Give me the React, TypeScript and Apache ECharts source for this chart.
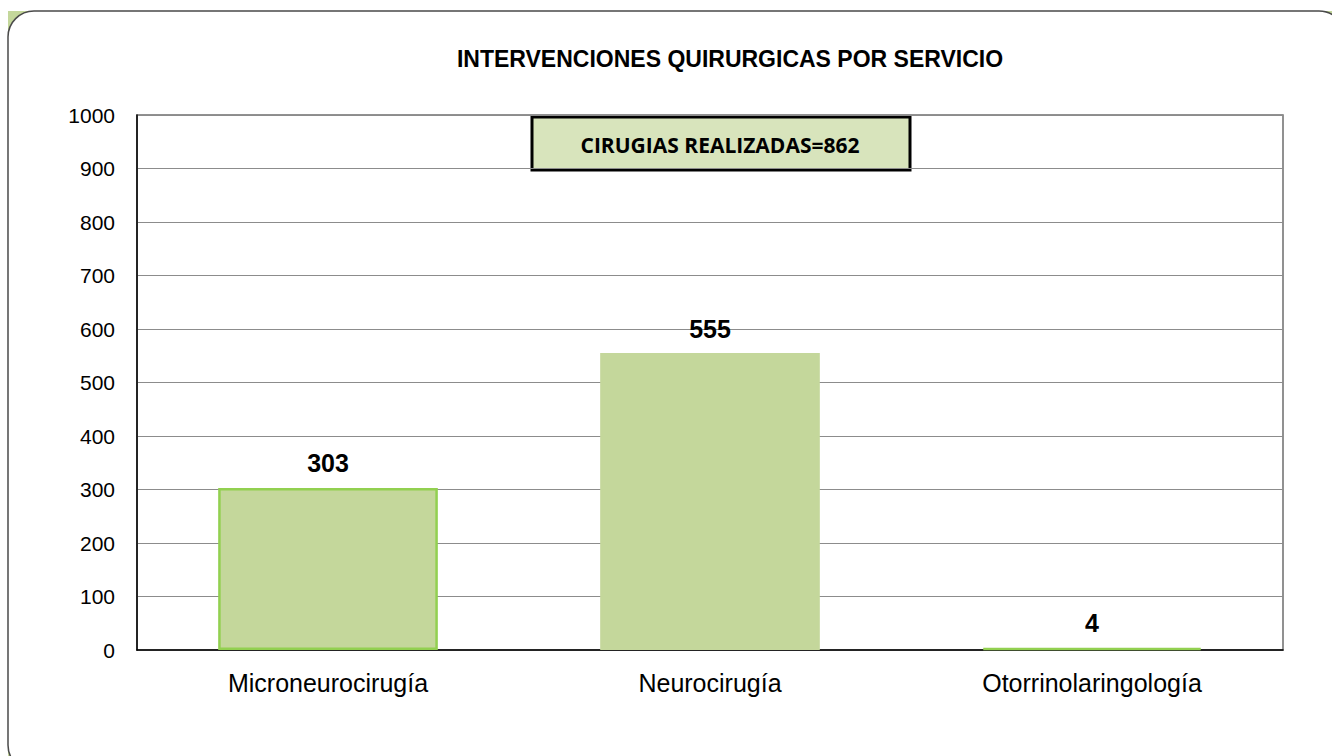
import React, { useEffect, useRef } from "react";
import * as echarts from "echarts";

const categories = ["Microneurocirugía", "Neurocirugía", "Otorrinolaringología"];
const values = [303, 555, 4];
const barBorders = ["#92d050", "#c4d79b", "#92d050"];
const yTicks = [0, 100, 200, 300, 400, 500, 600, 700, 800, 900, 1000];
const titleText = "INTERVENCIONES QUIRURGICAS POR SERVICIO";
const boxText = "CIRUGIAS REALIZADAS=862";

const FONT = "'Liberation Sans', Arial, sans-serif";

export default function App() {
  const ref = useRef<HTMLDivElement>(null);
  useEffect(() => {
    document.body.style.margin = "0";
    const chart = echarts.init(ref.current!, null, { renderer: "svg" });
    chart.setOption({
      animation: false,
      backgroundColor: "#ffffff",
      title: {
        text: titleText,
        left: 725,
        textAlign: "center",
        top: 42,
        textStyle: { fontFamily: FONT, fontSize: 23, fontWeight: "bold", color: "#000" },
      },
      grid: { left: 137, right: 49, top: 115, bottom: 106, show: true, borderColor: "#6e6e6e", borderWidth: 1.5 },
      xAxis: {
        type: "category",
        data: categories,
        axisLine: { show: true, lineStyle: { color: "#000", width: 1.5 } },
        axisTick: { show: false },
        axisLabel: { margin: 20, fontFamily: FONT, fontSize: 25, color: "#000" },
      },
      yAxis: {
        type: "value",
        min: yTicks[0],
        max: yTicks[yTicks.length - 1],
        interval: 100,
        axisLine: { show: true, lineStyle: { color: "#000", width: 1.5 } },
        axisTick: { show: false },
        splitLine: { show: true, lineStyle: { color: "#8c8c8c", width: 1 } },
        axisLabel: {
          margin: 22,
          fontFamily: FONT,
          fontSize: 21,
          color: "#000",
          formatter: (v: number) => String(v),
        },
      },
      series: [
        {
          type: "bar",
          barWidth: "57.5%",
          data: values.map((v, i) => ({
            value: v,
            itemStyle: { color: "#c4d79b", borderColor: barBorders[i], borderWidth: 2.5 },
          })),
          label: {
            show: true,
            position: "top",
            distance: 12,
            fontFamily: FONT,
            fontSize: 25,
            fontWeight: "bold",
            color: "#000",
          },
        },
      ],
      graphic: [
        {
          type: "rect",
          z: -10,
          silent: true,
          shape: { x: 8, y: 11, width: 1324, height: 745 },
          style: { fill: "#c4d79b" },
        },
        {
          type: "rect",
          z: -9,
          silent: true,
          shape: { x: 8, y: 11, width: 1337, height: 760, r: 26 },
          style: { fill: "#ffffff", stroke: "#4a4a4a", lineWidth: 1.5 },
        },
        {
          type: "group",
          z: 10,
          children: [
            {
              type: "rect",
              shape: { x: 532, y: 117, width: 378, height: 53 },
              style: { fill: "#d8e4bc", stroke: "#000", lineWidth: 3 },
            },
            {
              type: "text",
              x: 720,
              y: 145,
              style: {
                text: boxText,
                align: "center",
                verticalAlign: "middle",
                font: "bold 21px 'Open Sans', 'Liberation Sans', Arial",
                fill: "#000",
              },
            },
          ],
        },
      ],
    });
    return () => chart.dispose();
  }, []);
  return <div ref={ref} style={{ width: 1332, height: 756 }} />;
}
